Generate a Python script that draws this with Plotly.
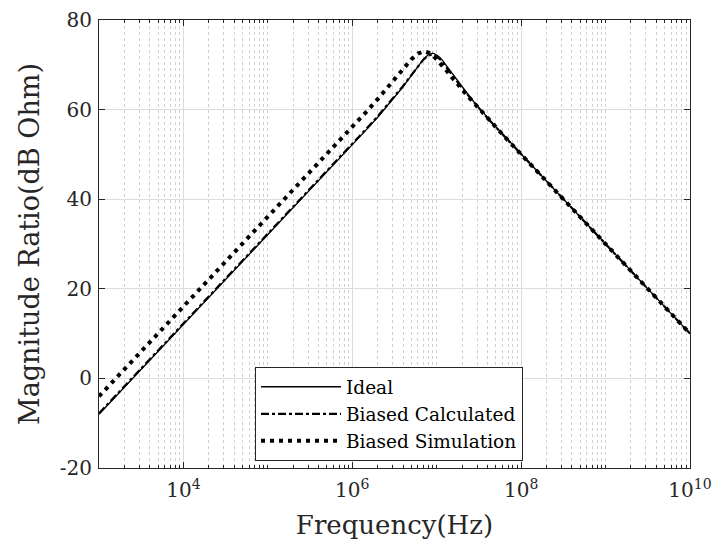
import plotly.graph_objects as go

freq = [1e3, 1e4, 1e5, 1e6, 1.5e6, 2e6, 3e6, 4e6, 5e6, 6e6, 7e6, 8e6, 9e6,
        1e7, 1.1e7, 1.2e7, 1.35e7, 1.5e7, 1.7e7, 2e7, 2.5e7, 3e7, 4e7, 5e7,
        7e7, 1e8, 3e8, 1e9, 1e10]

ideal = [-8.0, 12.0, 32.0, 52.1, 55.7, 58.3, 62.2, 65.1, 67.6, 69.7, 71.3, 72.3, 72.6,
         72.2, 71.6, 70.7, 69.4, 68.2, 66.8, 65.0, 62.7, 60.9, 58.2, 56.2,
         53.3, 50.1, 40.5, 30.0, 10.0]

biased_calc = [-7.8, 12.2, 32.2, 52.3, 55.9, 58.5, 62.4, 65.3, 67.7, 69.7, 71.2, 72.1, 72.3,
               71.8, 71.2, 70.3, 69.0, 67.9, 66.5, 64.8, 62.6, 60.8, 58.1, 56.1,
               53.2, 50.0, 40.5, 30.0, 10.0]

biased_sim = [-4.0, 16.0, 36.0, 56.1, 59.7, 62.35, 66.2, 69.1, 71.2, 72.5, 73.0, 72.7, 72.1,
              71.2, 70.4, 69.5, 68.4, 67.3, 66.0, 64.5, 62.4, 60.7, 58.0, 56.1,
              53.1, 50.0, 40.4, 30.0, 10.0]

series_names = ["Ideal", "Biased Calculated", "Biased Simulation"]

x_tickvals = [1e4, 1e6, 1e8, 1e10]
x_ticktext = ["10<sup>4</sup>", "10<sup>6</sup>", "10<sup>8</sup>", "10<sup>10</sup>"]
y_tickvals = [-20, 0, 20, 40, 60, 80]
y_ticktext = ["-20", "0", "20", "40", "60", "80"]

FONT = "DejaVu Serif"
AX = "#262626"

# minor tick positions (all log subdivisions not at labelled decades)
minor_vals = []
for d in range(3, 10):
    for m in range(1, 10):
        v = m * 10 ** d
        if v not in x_tickvals and v != 1e3:
            minor_vals.append(v)

fig = go.Figure()
fig.add_trace(go.Scatter(x=freq, y=ideal, name=series_names[0], mode="lines",
                         line=dict(color="black", width=1.3, dash="solid")))
fig.add_trace(go.Scatter(x=freq, y=biased_calc, name=series_names[1], mode="lines",
                         line=dict(color="black", width=2.2, dash="8px,3px,3px,3px")))
fig.add_trace(go.Scatter(x=freq, y=biased_sim, name=series_names[2], mode="lines",
                         line=dict(color="black", width=4, dash="4px,5px")))

fig.update_layout(
    width=713, height=548,
    margin=dict(l=99, r=23, t=20, b=80),
    paper_bgcolor="white", plot_bgcolor="white",
    font=dict(family=FONT, color=AX, size=20),
    showlegend=True,
    legend=dict(x=0.264, y=0.225, xanchor="left", yanchor="top",
                bgcolor="white", bordercolor=AX, borderwidth=1,
                font=dict(family=FONT, size=18.5, color="black"),
                itemwidth=80, tracegroupgap=0),
    xaxis=dict(type="log", range=[3, 10], automargin=False,
               tickvals=x_tickvals, ticktext=x_ticktext,
               ticks="inside", ticklen=6, tickcolor=AX,
               showline=True, linecolor=AX, linewidth=1, mirror="ticks",
               showgrid=True, gridcolor="#dcdcdc", gridwidth=1,
               tickfont=dict(family=FONT, size=20, color=AX),
               ticklabelstandoff=4,
               minor=dict(tickvals=minor_vals, ticks="inside", ticklen=3,
                          tickcolor=AX, showgrid=True, gridcolor="#d0d0d0",
                          griddash="dot", gridwidth=1),
               title=dict(text="Frequency(Hz)", font=dict(family=FONT, size=26, color=AX),
                          standoff=14),
               zeroline=False),
    yaxis=dict(range=[-20, 80], automargin=False,
               tickvals=y_tickvals, ticktext=y_ticktext,
               ticks="inside", ticklen=6, tickcolor=AX,
               showline=True, linecolor=AX, linewidth=1, mirror="ticks",
               showgrid=True, gridcolor="#dcdcdc", gridwidth=1,
               tickfont=dict(family=FONT, size=20, color=AX),
               ticklabelstandoff=2,
               title=dict(text="Magnitude Ratio(dB Ohm)",
                          font=dict(family=FONT, size=27, color=AX), standoff=12),
               zeroline=False),
)

fig.write_html("out.html")
